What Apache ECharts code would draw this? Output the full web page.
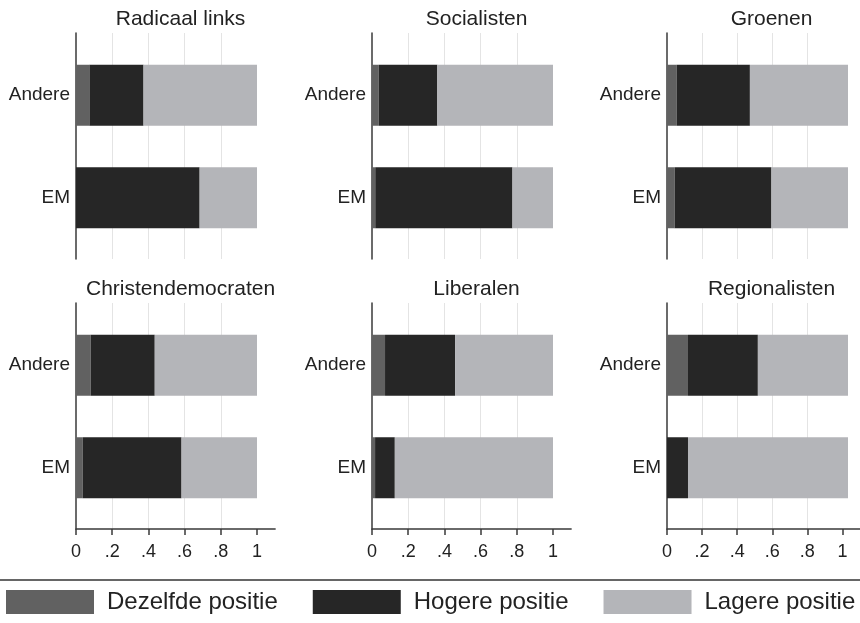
<!DOCTYPE html>
<html>
<head>
<meta charset="utf-8">
<script src="https://cdn.jsdelivr.net/npm/echarts@6/dist/echarts.min.js"></script>
<style>
  html, body { margin: 0; padding: 0; background: #fff; }
  #main { width: 860px; height: 623px; }
</style>
</head>
<body>
<div id="main"></div>
<script>
// panels, left-to-right, top-to-bottom
const panels = ['Radicaal links', 'Socialisten', 'Groenen', 'Christendemocraten', 'Liberalen', 'Regionalisten'];
// category order is bottom -> top
const categories = ['EM', 'Andere'];
const seriesNames = ['Dezelfde positie', 'Hogere positie', 'Lagere positie'];

// shares per panel: [EM, Andere]
const dezelfde = [[0.0, 0.074], [0.018, 0.037], [0.042, 0.053], [0.037, 0.081], [0.017, 0.072], [0.0, 0.116]];
const hogere   = [[0.683, 0.299], [0.758, 0.324], [0.535, 0.405], [0.546, 0.354], [0.109, 0.387], [0.116, 0.386]];
const lagere   = [[0.317, 0.627], [0.224, 0.639], [0.423, 0.542], [0.417, 0.565], [0.874, 0.541], [0.884, 0.498]];

const tickValues = [0, 0.2, 0.4, 0.6, 0.8, 1];
const tickLabels = ['0', '.2', '.4', '.6', '.8', '1'];

const colors = ['#616161', '#262626', '#b4b5b9'];
const font = '"Liberation Sans", Arial, Helvetica, sans-serif';
const textColor = '#222';

const colLeft = [76, 372, 667];
const rowTop = [33, 303];
const unitW = 181;      // pixels for 0..1
const frameH = 226;

const grids = [], xAxes = [], yAxes = [], titles = [], series = [];

// frame grids (axis lines + gridlines), one per panel
panels.forEach((name, i) => {
  const c = i % 3, r = Math.floor(i / 3);
  const bottomRow = r === 1;
  grids.push({ left: colLeft[c], top: rowTop[r], width: unitW * 1.1, height: frameH });
  xAxes.push({
    gridIndex: i, type: 'value', min: 0, max: 1.1, interval: 0.2,
    axisLine: { show: bottomRow, onZero: false, lineStyle: { color: '#3a3a3a', width: 1.5 } },
    axisTick: { show: bottomRow, length: 6, customValues: tickValues, lineStyle: { color: '#3a3a3a', width: 1.5 } },
    axisLabel: {
      show: bottomRow, customValues: tickValues, margin: 14,
      fontSize: 18, color: textColor, fontFamily: font,
      formatter: v => tickLabels[tickValues.findIndex(t => Math.abs(t - v) < 1e-6)] || ''
    },
    splitLine: { show: true, showMinLine: false, showMaxLine: false, lineStyle: { color: '#e4e4e4', width: 1 } }
  });
  yAxes.push({
    gridIndex: i, type: 'value', min: 0, max: 1,
    axisLine: { show: true, onZero: false, lineStyle: { color: '#3a3a3a', width: 1.5 } },
    axisTick: { show: false }, axisLabel: { show: false }, splitLine: { show: false }
  });
  titles.push({
    text: name, left: colLeft[c] + unitW * 0.55, top: rowTop[r] - 29, textAlign: 'center',
    textStyle: { fontSize: 21, fontWeight: 'normal', color: textColor, fontFamily: font }
  });
});

// bar grids, one per panel
panels.forEach((name, i) => {
  const c = i % 3, r = Math.floor(i / 3);
  const g = panels.length + i;
  grids.push({ left: colLeft[c], top: rowTop[r] + 11, width: unitW, height: 205 });
  xAxes.push({ gridIndex: g, type: 'value', min: 0, max: 1, show: false });
  yAxes.push({
    gridIndex: g, type: 'category', data: categories,
    axisLine: { show: false }, axisTick: { show: false },
    axisLabel: { margin: 6, fontSize: 19, color: textColor, fontFamily: font, padding: [6, 0, 0, 0] }
  });
  [dezelfde, hogere, lagere].forEach((arr, k) => {
    series.push({
      name: seriesNames[k], type: 'bar', stack: 'p' + i,
      xAxisIndex: g, yAxisIndex: g,
      barWidth: 61,
      itemStyle: { color: colors[k] },
      silent: true,
      data: arr[i]
    });
  });
});

const myChart = echarts.init(document.getElementById('main'), null, { renderer: 'canvas' });
myChart.setOption({
  animation: false,
  backgroundColor: '#fff',
  title: titles,
  grid: grids,
  xAxis: xAxes,
  yAxis: yAxes,
  legend: {
    data: seriesNames, left: 6, top: 590, width: 854, padding: 0,
    itemWidth: 88, itemHeight: 24, itemGap: 35, icon: 'rect',
    textStyle: { fontSize: 24, color: textColor, fontFamily: font, padding: [0, 0, 0, 8] }
  },
  graphic: [{
    type: 'line', shape: { x1: 0, y1: 580, x2: 860, y2: 580 },
    style: { stroke: '#333', lineWidth: 1.5 }
  }],
  series: series
});
</script>
</body>
</html>
